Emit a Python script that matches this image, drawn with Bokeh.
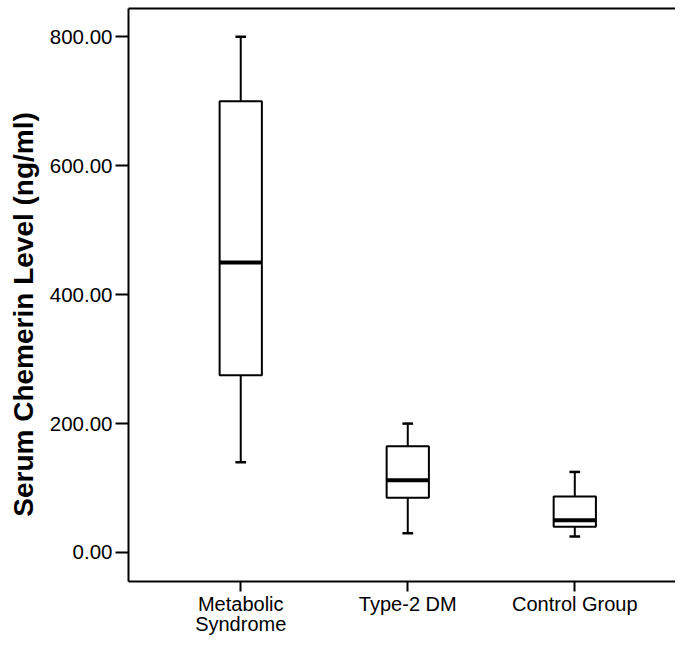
from bokeh.plotting import figure
from bokeh.models import Range1d, FixedTicker, NumeralTickFormatter, LinearAxis
from bokeh.embed import file_html
from bokeh.resources import INLINE

# Data
categories = ["Metabolic\nSyndrome", "Type-2 DM", "Control Group"]
lower_whisker = [140, 30, 25]
q1 = [275, 85, 40]
median = [450, 112, 50]
q3 = [700, 165, 87]
upper_whisker = [800, 200, 125]
y_ticks = [0, 200, 400, 600, 800]
y_title = "Serum Chemerin Level (ng/ml)"

xpos = [i + 1 for i in range(len(categories))]
box_w = 0.253
cap_half = 0.032

FONT = "Liberation Sans"

p = figure(width=675, height=638, output_backend="svg", toolbar_location=None,
           x_range=Range1d(0.328, 3.603), y_range=Range1d(-45, 844),
           min_border_left=128, min_border_right=0, min_border_top=8, min_border_bottom=50)
p.outline_line_color = None
p.xgrid.visible = False
p.ygrid.visible = False
p.background_fill_color = "white"
p.border_fill_color = "white"

# whiskers
p.segment(x0=xpos, y0=q3, x1=xpos, y1=upper_whisker, line_color="black", line_width=2)
p.segment(x0=xpos, y0=q1, x1=xpos, y1=lower_whisker, line_color="black", line_width=2)
p.segment(x0=[x - cap_half for x in xpos], y0=upper_whisker,
          x1=[x + cap_half for x in xpos], y1=upper_whisker, line_color="black", line_width=2.5)
p.segment(x0=[x - cap_half for x in xpos], y0=lower_whisker,
          x1=[x + cap_half for x in xpos], y1=lower_whisker, line_color="black", line_width=2.5)
# boxes
p.vbar(x=xpos, width=box_w, top=q3, bottom=q1, fill_color="white",
       line_color="black", line_width=2)
# medians
p.segment(x0=[x - box_w / 2 for x in xpos], y0=median,
          x1=[x + box_w / 2 for x in xpos], y1=median, line_color="black", line_width=4)

# y axis
ya = p.yaxis[0]
ya.ticker = FixedTicker(ticks=y_ticks)
ya.formatter = NumeralTickFormatter(format="0.00")
ya.axis_label = y_title + "\u00a0" * 5
ya.axis_label_text_font = FONT
ya.axis_label_text_font_style = "bold"
ya.axis_label_text_font_size = "28px"
ya.axis_label_text_color = "black"
ya.axis_label_standoff = 8
ya.major_label_text_font = FONT
ya.major_label_text_font_size = "20.5px"
ya.major_label_text_color = "black"
ya.major_label_standoff = 3
ya.major_tick_out = 13
ya.major_tick_in = 0
ya.minor_tick_out = 0
ya.minor_tick_in = 0
ya.axis_line_width = 2
ya.major_tick_line_width = 2
ya.axis_line_color = "black"

# x axis
xa = p.xaxis[0]
xa.ticker = FixedTicker(ticks=xpos)
xa.major_label_overrides = {x: c for x, c in zip(xpos, categories)}
xa.major_label_text_font = FONT
xa.major_label_text_font_size = "20px"
xa.major_label_text_color = "black"
xa.major_label_text_line_height = 0.95
xa.major_label_standoff = 1
xa.major_tick_out = 10
xa.major_tick_in = 0
xa.minor_tick_out = 0
xa.minor_tick_in = 0
xa.axis_line_width = 2
xa.major_tick_line_width = 2
xa.axis_line_color = "black"

# top border line
top = LinearAxis(ticker=FixedTicker(ticks=[]), major_tick_out=0, minor_tick_out=0,
                 major_label_text_font_size="0px", major_label_standoff=0,
                 axis_line_width=2, axis_line_color="black")
p.add_layout(top, "above")

open("out.html", "w").write(file_html(p, INLINE))
